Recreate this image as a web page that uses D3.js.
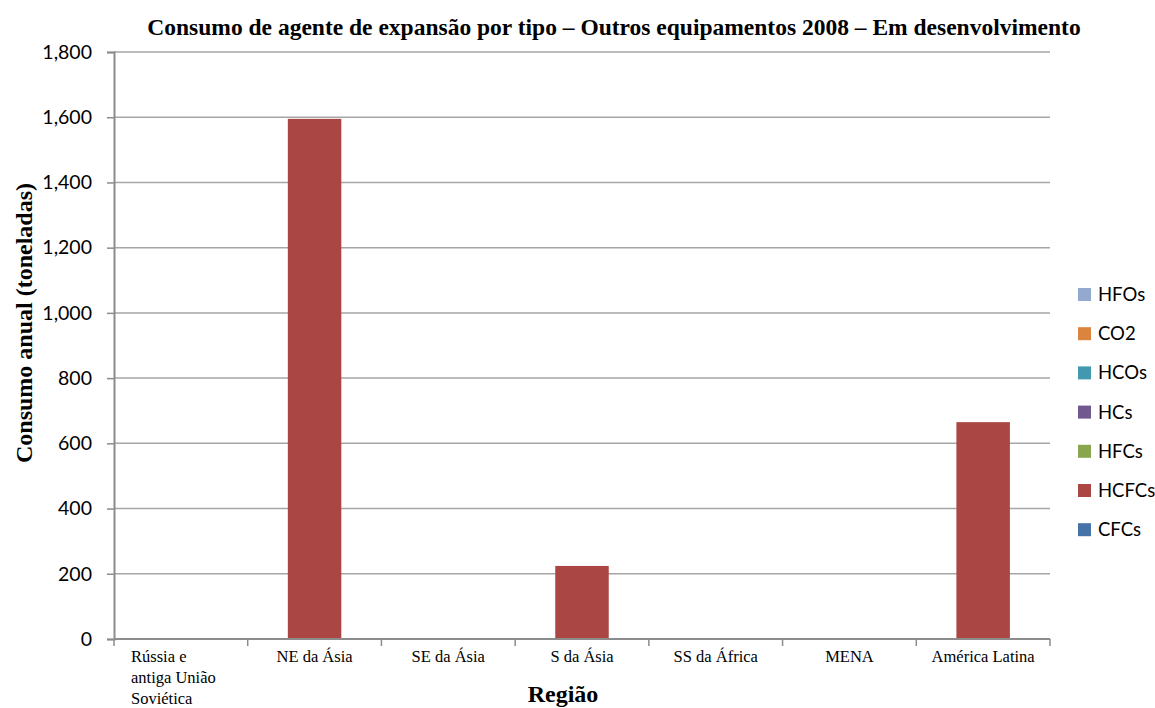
<!DOCTYPE html>
<html>
<head>
<meta charset="utf-8">
<script src="https://cdn.jsdelivr.net/npm/d3@7"></script>
<style>
  body { margin: 0; background: #fff; }
  svg text { fill: #000; }
</style>
</head>
<body>
<div id="chart"></div>
<script>
// data
const regions = ["Rússia e antiga União Soviética", "NE da Ásia", "SE da Ásia", "S da Ásia", "SS da África", "MENA", "América Latina"]
const types = ["CFCs", "HCFCs", "HFCs", "HCs", "HCOs", "CO2", "HFOs"]
const CFCs = [0, 0, 0, 0, 0, 0, 0]
const HCFCs = [0, 1595, 0, 224, 0, 0, 665]
const HFCs = [0, 0, 0, 0, 0, 0, 0]
const HCs = [0, 0, 0, 0, 0, 0, 0]
const HCOs = [0, 0, 0, 0, 0, 0, 0]
const CO2 = [0, 0, 0, 0, 0, 0, 0]
const HFOs = [0, 0, 0, 0, 0, 0, 0]
const yTicks = [0, 200, 400, 600, 800, 1000, 1200, 1400, 1600, 1800]

const colors = {
    CFCs: "#4572A7", HCFCs: "#AA4643", HFCs: "#89A54E", HCs: "#71588F",
    HCOs: "#4198AF", CO2: "#DB843D", HFOs: "#93A9CF"
}

const seriesValues = { CFCs, HCFCs, HFCs, HCs, HCOs, CO2, HFOs }
const rows = regions.map((r, i) => {
    const row = { region: r }
    types.forEach(t => { row[t] = seriesValues[t][i] })
    return row
})

const W = 1155, H = 708
const margin = { top: 52, right: 105, bottom: 69, left: 114 }
const width = W - margin.left - margin.right
const height = H - margin.top - margin.bottom
const serif = "'Liberation Serif', 'Times New Roman', serif"
const sans = "Lato, 'Open Sans', sans-serif"

const svg = d3.select("#chart").append("svg")
    .attr("width", W)
    .attr("height", H)

const g = svg.append("g")
    .attr("transform", `translate(${margin.left},${margin.top})`)

const x = d3.scaleBand().domain(regions).range([0, width]).paddingInner(0.6).paddingOuter(0.3)
const y = d3.scaleLinear().domain([0, 1800]).range([height, 0])

// gridlines
g.append("g")
    .selectAll("line")
    .data(yTicks.filter(d => d > 0))
    .join("line")
    .attr("x1", 0)
    .attr("x2", width)
    .attr("y1", d => y(d))
    .attr("y2", d => y(d))
    .attr("stroke", "#a6a6a6")
    .attr("stroke-width", 1.5)

// y axis
const yAxis = g.append("g")
    .call(d3.axisLeft(y).tickValues(yTicks).tickSize(7).tickPadding(15).tickFormat(d3.format(",")))
yAxis.select(".domain").attr("stroke", "#8c8c8c").attr("stroke-width", 2)
yAxis.selectAll(".tick line").attr("stroke", "#8c8c8c").attr("stroke-width", 1.5)
yAxis.selectAll(".tick text")
    .attr("font-family", sans)
    .attr("font-size", 19.5)
    .attr("fill", "#000")

// stacked bars
const stacked = d3.stack().keys(types)(rows)
g.append("g")
    .selectAll("g")
    .data(stacked)
    .join("g")
    .attr("fill", d => colors[d.key])
    .selectAll("rect")
    .data(d => d)
    .join("rect")
    .attr("x", d => x(d.data.region))
    .attr("width", x.bandwidth())
    .attr("y", d => y(d[1]))
    .attr("height", d => y(d[0]) - y(d[1]))

// x axis with ticks on the band edges
const step = x.step()
const xAxis = g.append("g").attr("transform", `translate(0,${height})`)
xAxis.append("line")
    .attr("x1", 0).attr("x2", width)
    .attr("stroke", "#8c8c8c").attr("stroke-width", 2)
xAxis.selectAll(".edge")
    .data(d3.range(regions.length + 1))
    .join("line")
    .attr("class", "edge")
    .attr("x1", i => i * step).attr("x2", i => i * step)
    .attr("y1", 0).attr("y2", 7)
    .attr("stroke", "#8c8c8c").attr("stroke-width", 1.5)

const labelLines = {
    "Rússia e antiga União Soviética": ["Rússia e", "antiga União", "Soviética"]
}
xAxis.selectAll(".lbl")
    .data(regions)
    .join("text")
    .attr("class", "lbl")
    .attr("font-family", serif)
    .attr("font-size", 16.5)
    .each(function (d) {
        const t = d3.select(this)
        const lines = labelLines[d]
        if (lines) {
            t.attr("text-anchor", "start")
            lines.forEach((l, i) => {
                t.append("tspan")
                    .attr("x", x(d) + x.bandwidth() / 2 - step / 2 + 17)
                    .attr("y", 23 + i * 21)
                    .text(l)
            })
        } else {
            t.attr("text-anchor", "middle")
                .attr("x", x(d) + x.bandwidth() / 2)
                .attr("y", 23)
                .text(d)
        }
    })

// titles
svg.append("text")
    .attr("x", 614)
    .attr("y", 35)
    .attr("text-anchor", "middle")
    .attr("font-family", serif)
    .attr("font-weight", "bold")
    .attr("font-size", 23.5)
    .text("Consumo de agente de expansão por tipo – Outros equipamentos 2008 – Em desenvolvimento")

svg.append("text")
    .attr("transform", "translate(32,323) rotate(-90)")
    .attr("text-anchor", "middle")
    .attr("font-family", serif)
    .attr("font-weight", "bold")
    .attr("font-size", 24)
    .text("Consumo anual (toneladas)")

svg.append("text")
    .attr("x", 563)
    .attr("y", 702)
    .attr("text-anchor", "middle")
    .attr("font-family", serif)
    .attr("font-weight", "bold")
    .attr("font-size", 24)
    .text("Região")

// legend, top to bottom in reverse stack order
const legendKeys = types.slice().reverse()
const legend = svg.append("g").attr("transform", "translate(1078,288)")
const item = legend.selectAll("g")
    .data(legendKeys)
    .join("g")
    .attr("transform", (d, i) => `translate(0,${i * 39.2})`)
item.append("rect")
    .attr("width", 13)
    .attr("height", 13)
    .attr("fill", d => colors[d])
item.append("text")
    .attr("x", 20)
    .attr("y", 13)
    .attr("font-family", sans)
    .attr("font-size", 18.5)
    .text(d => d)
</script>
</body>
</html>
